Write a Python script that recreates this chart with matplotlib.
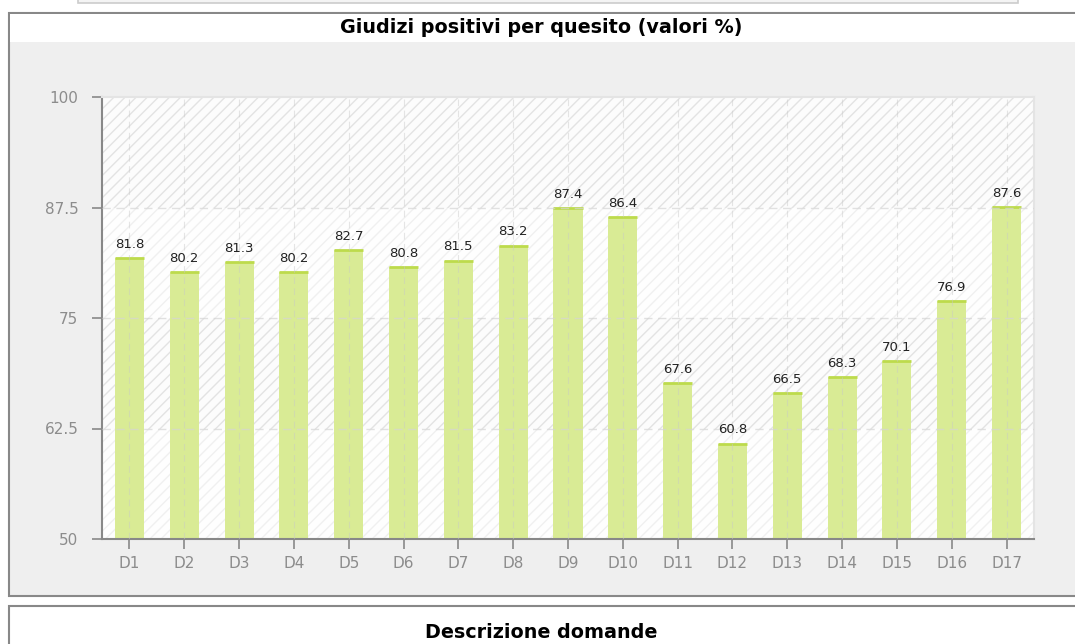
import matplotlib.pyplot as plt
from matplotlib.patches import Rectangle
import numpy as np

# chart data
questions = ['D1', 'D2', 'D3', 'D4', 'D5', 'D6', 'D7', 'D8', 'D9', 'D10',
             'D11', 'D12', 'D13', 'D14', 'D15', 'D16', 'D17']
positives = [81.8, 80.2, 81.3, 80.2, 82.7, 80.8, 81.5, 83.2, 87.4, 86.4,
             67.6, 60.8, 66.5, 68.3, 70.1, 76.9, 87.6]
yTicks = [50, 62.5, 75, 87.5, 100]
yTickLabels = ['50', '62.5', '75', '87.5', '100']
chartTitle = 'Giudizi positivi per quesito (valori %)'
descTitle = 'Descrizione domande'

W, H = 1075, 644
fig = plt.figure(figsize=(W/100, H/100), dpi=100)
fig.patch.set_facecolor('white')

# page background drawn in pixel coordinates
bg = fig.add_axes([0, 0, 1, 1])
bg.set_xlim(0, W)
bg.set_ylim(H, 0)
bg.axis('off')
bg.add_patch(Rectangle((78, -2), 940, 5, facecolor='#f4f4f4',
                       edgecolor='#cccccc', lw=1.2))
bg.add_patch(Rectangle((9, 12.5), W+20, 583, facecolor='#efefef',
                       edgecolor='#888888', lw=1.5))
bg.add_patch(Rectangle((10, 13.5), W+20, 28, facecolor='white', lw=0))
bg.add_patch(Rectangle((9, 606), W+20, 60, facecolor='white',
                       edgecolor='#888888', lw=1.5))
bg.text(541, 27, chartTitle, ha='center', va='center',
        fontsize=13.8, fontweight='bold', color='black')
bg.text(541, 633, descTitle, ha='center', va='center',
        fontsize=13.8, fontweight='bold', color='black')

# plot area
left, right, top, bottom = 102, 1034, 97, 539
ax = fig.add_axes([left/W, 1-bottom/H, (right-left)/W, (bottom-top)/H])
ax.set_facecolor('white')
x = np.arange(len(questions))
ax.set_xlim(-0.5, len(questions)-0.5)
ax.set_ylim(yTicks[0], yTicks[-1])

# alternating hatched bands
for i in range(len(yTicks)-1):
    dark = (len(yTicks)-2-i) % 2 == 0
    ax.axhspan(yTicks[i], yTicks[i+1], facecolor='#fcfcfc' if dark else '#fefefe',
               edgecolor='#e3e3e3' if dark else '#f0f0f0', hatch='///', lw=0, zorder=0)

barW = 0.53
ax.bar(x, [v - yTicks[0] for v in positives], bottom=yTicks[0], width=barW,
       color='#d9eb95', lw=0, zorder=2)
ax.hlines(positives, x-barW/2, x+barW/2, colors='#bddb4c', lw=2, zorder=3)

# dashed grid on top of bars, very light
for xi in x:
    ax.axvline(xi, color='#c8c8c8', lw=0.8, ls=(0, (6, 4)), alpha=0.45, zorder=4)
for yv in yTicks[1:-1]:
    ax.axhline(yv, color='#d5d5d5', lw=1.0, ls=(0, (6, 4)), alpha=0.7, zorder=4)

for xi, v in zip(x, positives):
    ax.text(xi, v+0.8, '%.1f' % v, ha='center', va='bottom',
            fontsize=9.5, color='#222222', zorder=5)

ax.set_xticks(x)
ax.set_xticklabels(questions)
ax.set_yticks(yTicks)
ax.set_yticklabels(yTickLabels)
ax.tick_params(axis='both', colors='#888888', labelcolor='#8c8c8c', direction='out',
               length=7, width=1.2)
ax.tick_params(axis='y', pad=10, labelsize=11)
ax.tick_params(axis='x', pad=5, labelsize=11)

for side in ['left', 'bottom']:
    ax.spines[side].set_color('#888888')
    ax.spines[side].set_linewidth(1.5)
for side in ['top', 'right']:
    ax.spines[side].set_color('#e4e4e4')
    ax.spines[side].set_linewidth(1.5)

fig.savefig('out.png', dpi=100)
